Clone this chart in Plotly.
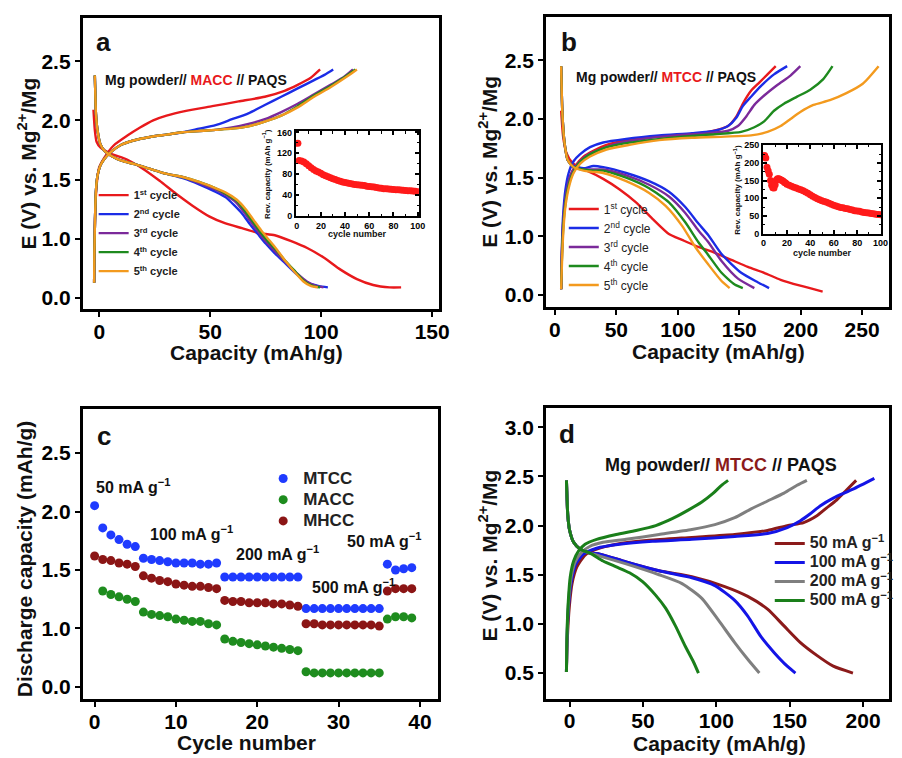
import plotly.graph_objects as go

FONT = "Arial, Liberation Sans, sans-serif"

# ---------------- panel a: Mg powder // MACC // PAQS, cycles 1-5 ----------------
A_NAMES = ["1<sup>st</sup> cycle", "2<sup>nd</sup> cycle", "3<sup>rd</sup> cycle",
           "4<sup>th</sup> cycle", "5<sup>th</sup> cycle"]
A_COLORS = ["#E8191C", "#1B2CE6", "#7B2A9A", "#1E8A1E", "#F39A1E"]

a1_chg_cap = [-2.3, -1.9, -1.2, -0.1, 2.1, 6.6, 12.5, 18.4, 24.3, 30.3, 39.1, 50.9, 62.8, 74.6, 83.5, 89.4, 95.3, 99.5]
a1_chg_v = [0.63, 1.17, 1.45, 1.60, 1.68, 1.79, 1.87, 1.94, 2.00, 2.04, 2.08, 2.12, 2.16, 2.20, 2.25, 2.30, 2.36, 2.43]
a1_dis_cap = [-2.6, -2.0, -1.2, 0.6, 5.1, 12.5, 19.8, 27.2, 34.6, 42.0, 49.5, 56.9, 64.3, 71.7, 79.1, 86.5, 93.9, 101.3, 108.7, 116.1, 123.4, 130.8, 136.0]
a1_dis_v = [2.09, 1.92, 1.82, 1.77, 1.72, 1.67, 1.59, 1.49, 1.38, 1.28, 1.19, 1.13, 1.09, 1.05, 1.03, 0.98, 0.92, 0.84, 0.74, 0.66, 0.61, 0.59, 0.59]

a2_chg_cap = [-2.3, -2.2, -1.9, -1.5, -0.9, 0.3, 2.1, 5.1, 9.5, 15.4, 22.8, 30.3, 37.6, 45.0, 52.4, 59.8, 67.2, 74.6, 82.0, 89.4, 96.8, 102.0, 105.4]
a2_chg_v = [0.63, 0.86, 1.17, 1.40, 1.52, 1.61, 1.67, 1.73, 1.79, 1.83, 1.86, 1.88, 1.90, 1.93, 1.96, 2.01, 2.06, 2.13, 2.20, 2.27, 2.34, 2.39, 2.43]
a2_dis_cap = [-2.0, -1.8, -1.5, -0.8, 0.5, 2.5, 5.5, 10, 16, 23, 30, 38, 45, 52, 57, 61, 64.5, 68, 71.5, 75, 79, 84, 89, 94, 99, 103]
a2_dis_v = [2.38, 2.25, 2.06, 1.92, 1.80, 1.74, 1.70, 1.66, 1.63, 1.59, 1.55, 1.51, 1.46, 1.40, 1.35, 1.28, 1.21, 1.12, 1.04, 0.96, 0.88, 0.79, 0.70, 0.63, 0.60, 0.59]

a3_chg_cap = [-2.3, -2.2, -1.9, -1.5, -0.9, 0.3, 2.1, 5.1, 9.5, 15.4, 22.8, 30.3, 37.6, 45.0, 52.4, 59.8, 67.2, 74.6, 82.0, 89.4, 96.8, 104.2, 110.5, 114.3]
a3_chg_v = [0.63, 0.86, 1.17, 1.40, 1.52, 1.61, 1.67, 1.73, 1.79, 1.83, 1.86, 1.88, 1.90, 1.91, 1.92, 1.94, 1.97, 2.01, 2.07, 2.14, 2.22, 2.30, 2.37, 2.43]
a3_dis_cap = [-2.0, -1.8, -1.5, -0.8, 0.5, 2.5, 5.5, 10, 16, 23, 30, 38, 45, 52, 57, 61.5, 65, 68.5, 72, 75.5, 79.5, 84, 89, 93.5, 98, 101]
a3_dis_v = [2.38, 2.25, 2.06, 1.92, 1.80, 1.74, 1.70, 1.66, 1.63, 1.59, 1.55, 1.52, 1.47, 1.42, 1.37, 1.31, 1.23, 1.14, 1.05, 0.97, 0.89, 0.80, 0.71, 0.64, 0.60, 0.59]

a4_chg_cap = [-2.3, -2.2, -1.9, -1.5, -0.9, 0.3, 2.1, 5.1, 9.5, 15.4, 22.8, 30.3, 37.6, 45.0, 52.4, 59.8, 67.2, 74.6, 82.0, 89.4, 96.8, 104.2, 111.6, 115.4]
a4_chg_v = [0.63, 0.86, 1.17, 1.40, 1.52, 1.61, 1.67, 1.73, 1.79, 1.83, 1.86, 1.88, 1.90, 1.91, 1.92, 1.93, 1.95, 1.99, 2.04, 2.12, 2.21, 2.29, 2.38, 2.43]
a4_dis_cap = [-2.0, -1.8, -1.5, -0.8, 0.5, 2.5, 5.5, 10, 16, 23, 30, 38, 45, 52, 57, 62, 65.5, 69, 72.5, 76, 80, 84, 88.5, 92.5, 96.5, 99.5]
a4_dis_v = [2.38, 2.25, 2.06, 1.92, 1.80, 1.74, 1.70, 1.66, 1.63, 1.59, 1.55, 1.52, 1.48, 1.43, 1.38, 1.32, 1.24, 1.15, 1.06, 0.98, 0.90, 0.81, 0.72, 0.64, 0.60, 0.59]

a5_chg_cap = [-2.3, -2.2, -1.9, -1.5, -0.9, 0.3, 2.1, 5.1, 9.5, 15.4, 22.8, 30.3, 37.6, 45.0, 52.4, 59.8, 67.2, 74.6, 82.0, 89.4, 96.8, 104.2, 111.6, 116.1]
a5_chg_v = [0.63, 0.86, 1.17, 1.40, 1.52, 1.61, 1.67, 1.73, 1.79, 1.83, 1.86, 1.88, 1.90, 1.91, 1.92, 1.93, 1.95, 1.99, 2.04, 2.11, 2.20, 2.28, 2.37, 2.43]
a5_dis_cap = [-2.0, -1.8, -1.5, -0.8, 0.5, 2.5, 5.5, 10, 16, 23, 30, 38, 45, 52, 57, 62, 66, 69.5, 73, 76.5, 80, 84, 88, 92, 95.5, 98.5]
a5_dis_v = [2.38, 2.25, 2.06, 1.92, 1.80, 1.74, 1.70, 1.66, 1.63, 1.59, 1.55, 1.52, 1.48, 1.43, 1.39, 1.33, 1.25, 1.16, 1.07, 0.99, 0.91, 0.81, 0.72, 0.64, 0.60, 0.59]

# inset a: reversible capacity (mAh/g) vs cycle number
ia_cycle = [1] + list(range(2, 101, 2))
ia_cap = [139, 106, 105, 103, 100, 96, 92, 89, 86, 84, 81.5, 79, 77, 75, 73, 71, 69.5, 68, 66.5, 65, 64,
          63, 62, 61, 60, 59.5, 59, 58.5, 58, 57, 56.5, 56, 55.5, 54.5, 53.5, 53, 52, 52, 51.5, 51, 50.5,
          50, 50, 49.5, 49, 48.5, 48, 48, 47.5, 47, 46.5]

# ---------------- panel b: Mg powder // MTCC // PAQS, cycles 1-5 ----------------
B_NAMES = ["1<sup>st</sup> cycle", "2<sup>nd</sup> cycle", "3<sup>rd</sup> cycle",
           "4<sup>th</sup> cycle", "5<sup>th</sup> cycle"]

b1_chg_cap = [5.1, 5.6, 6.7, 8.8, 12.0, 16.6, 23.3, 31.3, 42.0, 58.0, 84.8, 111.5, 132.9, 140.9, 147.6, 152.9, 159.6, 166.3, 173.0, 179.7]
b1_chg_v = [0.55, 0.84, 1.12, 1.35, 1.50, 1.60, 1.68, 1.73, 1.78, 1.82, 1.85, 1.87, 1.91, 1.94, 2.02, 2.13, 2.24, 2.31, 2.38, 2.45]
b1_dis_cap = [5.1, 6.7, 9.4, 13.9, 20.6, 25.9, 39.3, 52.7, 66.0, 79.4, 92.8, 103.5, 116.8, 130.2, 143.6, 157.0, 170.3, 183.7, 199.7, 217.9]
b1_dis_v = [2.07, 1.85, 1.71, 1.63, 1.58, 1.56, 1.49, 1.40, 1.29, 1.15, 1.02, 0.97, 0.91, 0.86, 0.80, 0.74, 0.69, 0.63, 0.58, 0.53]

b2_chg_cap = [5.1, 5.6, 6.7, 8.6, 11.2, 15.2, 20.6, 28.6, 39.3, 58.0, 84.8, 111.5, 130.2, 140.9, 147.6, 152.9, 159.6, 167.6, 178.3, 189.0]
b2_chg_v = [0.55, 0.87, 1.18, 1.40, 1.54, 1.64, 1.70, 1.76, 1.80, 1.83, 1.86, 1.88, 1.90, 1.94, 2.01, 2.11, 2.19, 2.28, 2.38, 2.45]
b2_dis_cap = [5.1, 6.1, 7.8, 10.4, 15.2, 23.3, 31.3, 39.3, 58.0, 76.7, 92.8, 106.1, 116.8, 124.9, 135.6, 151.6, 165.0, 174.3]
b2_dis_v = [2.45, 2.05, 1.80, 1.65, 1.60, 1.58, 1.60, 1.59, 1.54, 1.47, 1.38, 1.25, 1.11, 1.01, 0.85, 0.69, 0.61, 0.56]

b3_chg_cap = [5.1, 5.9, 7.2, 9.4, 12.6, 17.9, 25.9, 36.6, 50.0, 71.4, 98.1, 124.9, 140.9, 148.9, 155.6, 162.3, 170.3, 181.0, 191.7, 199.7]
b3_chg_v = [0.55, 0.90, 1.18, 1.38, 1.52, 1.61, 1.69, 1.74, 1.79, 1.83, 1.86, 1.88, 1.90, 1.94, 2.02, 2.12, 2.20, 2.29, 2.37, 2.45]
b3_dis_cap = [5.1, 6.1, 7.8, 10.4, 15.2, 23.3, 39.3, 58.0, 76.7, 92.8, 106.1, 116.8, 124.9, 135.6, 149.0, 162.3]
b3_dis_v = [2.45, 2.05, 1.80, 1.65, 1.59, 1.57, 1.57, 1.52, 1.44, 1.34, 1.20, 1.05, 0.95, 0.79, 0.64, 0.56]

b4_chg_cap = [5.1, 6.1, 7.8, 10.4, 14.2, 19.3, 27.3, 39.3, 55.4, 76.7, 103.5, 130.2, 151.6, 162.3, 170.3, 178.3, 186.4, 197.1, 207.8, 218.4, 225.9]
b4_chg_v = [0.55, 0.93, 1.21, 1.40, 1.53, 1.62, 1.69, 1.75, 1.79, 1.82, 1.85, 1.87, 1.89, 1.93, 1.98, 2.07, 2.13, 2.19, 2.25, 2.34, 2.45]
b4_dis_cap = [5.1, 6.1, 7.8, 10.4, 15.2, 23.3, 31.3, 39.3, 58.0, 76.7, 92.8, 106.1, 116.8, 124.9, 135.6, 146.3, 152.9]
b4_dis_v = [2.45, 2.05, 1.80, 1.65, 1.59, 1.57, 1.56, 1.56, 1.50, 1.41, 1.29, 1.12, 0.95, 0.84, 0.69, 0.59, 0.56]

b5_chg_cap = [5.1, 6.4, 8.3, 11.2, 15.2, 20.6, 28.6, 42.0, 60.7, 84.8, 111.5, 138.2, 159.6, 173.0, 183.7, 191.7, 199.7, 210.4, 223.8, 237.2, 250.5, 263.4]
b5_chg_v = [0.55, 0.95, 1.23, 1.41, 1.54, 1.62, 1.68, 1.74, 1.78, 1.82, 1.84, 1.85, 1.86, 1.89, 1.94, 2.00, 2.06, 2.12, 2.16, 2.22, 2.30, 2.45]
b5_dis_cap = [5.1, 6.1, 7.8, 10.4, 15.2, 23.3, 31.3, 39.3, 58.0, 76.7, 90.1, 103.5, 114.2, 124.9, 135.6, 142.2]
b5_dis_v = [2.45, 2.05, 1.80, 1.65, 1.59, 1.56, 1.55, 1.54, 1.47, 1.37, 1.26, 1.09, 0.91, 0.76, 0.62, 0.56]

# inset b: reversible capacity (mAh/g) vs cycle number
ib_cycle = list(range(1, 21)) + list(range(22, 101, 2))
ib_cap = [221, 214, 188, 178, 168, 150, 137, 130, 129, 138, 152, 155, 155, 154, 152, 150, 148, 145, 143, 140,
          137, 134, 131, 129, 126, 124, 121, 118, 114, 110, 106, 102, 99, 96, 93, 91, 89, 86, 83, 80,
          78, 76, 74, 73, 71, 70, 68, 67, 65, 64, 63, 61, 60, 59, 58, 57, 56, 55, 54, 53]

# ---------------- panel c: rate capability ----------------
C_RATE_LABELS = ["50 mA g<sup>\u22121</sup>", "100 mA g<sup>\u22121</sup>", "200 mA g<sup>\u22121</sup>",
                 "500 mA g<sup>\u22121</sup>", "50 mA g<sup>\u22121</sup>"]
C_NAMES = ["MTCC", "MACC", "MHCC"]
C_COLORS = ["#1F3BFF", "#1E8C1E", "#8B1515"]
c_cycle = list(range(0, 40))
c_mtcc = [2.05, 1.86, 1.80, 1.76, 1.72, 1.70,
          1.60, 1.59, 1.58, 1.57, 1.56, 1.56, 1.56, 1.55, 1.55, 1.56,
          1.44, 1.44, 1.44, 1.44, 1.44, 1.44, 1.44, 1.44, 1.44, 1.44,
          1.17, 1.17, 1.17, 1.17, 1.17, 1.17, 1.17, 1.17, 1.17, 1.17,
          1.55, 1.50, 1.51, 1.52]
c_macc_cycle = list(range(1, 40))
c_macc = [1.32, 1.29, 1.27, 1.25, 1.23,
          1.14, 1.12, 1.11, 1.10, 1.08, 1.07, 1.06, 1.06, 1.04, 1.03,
          0.91, 0.89, 0.88, 0.87, 0.86, 0.85, 0.84, 0.83, 0.82, 0.81,
          0.63, 0.62, 0.62, 0.62, 0.62, 0.62, 0.62, 0.62, 0.62, 0.62,
          1.08, 1.10, 1.10, 1.09]
c_mhcc = [1.62, 1.59, 1.58, 1.56, 1.55, 1.53,
          1.45, 1.43, 1.41, 1.40, 1.38, 1.37, 1.36, 1.36, 1.35, 1.34,
          1.24, 1.23, 1.23, 1.22, 1.22, 1.22, 1.21, 1.21, 1.20, 1.19,
          1.04, 1.04, 1.03, 1.03, 1.03, 1.03, 1.03, 1.03, 1.03, 1.02,
          1.32, 1.34, 1.34, 1.34]

# ---------------- panel d: MTCC at different current densities ----------------
D_NAMES = ["50 mA g<sup>\u22121</sup>", "100 mA g<sup>\u22121</sup>", "200 mA g<sup>\u22121</sup>", "500 mA g<sup>\u22121</sup>"]
D_COLORS = ["#8B1A1A", "#1414E6", "#7F7F7F", "#1A7F1A"]

d50_chg_cap = [-2.2, -1.6, -0.2, 1.6, 4.9, 10.5, 18.4, 31.8, 54.2, 83.3, 112.5, 134.9, 148.3, 159.5, 168.5, 175.2, 181.9, 188.6, 195.3]
d50_chg_v = [0.51, 0.84, 1.18, 1.41, 1.58, 1.70, 1.76, 1.81, 1.85, 1.88, 1.91, 1.95, 2.00, 2.03, 2.10, 2.18, 2.26, 2.36, 2.46]
d50_dis_cap = [-2.2, -1.8, -1.3, 0, 2.7, 7.2, 13.9, 20.6, 38.5, 60.9, 83.3, 105.7, 121.4, 134.9, 146.1, 157.3, 168.5, 179.7, 193.1]
d50_dis_v = [2.46, 2.28, 2.11, 1.95, 1.83, 1.76, 1.72, 1.71, 1.63, 1.54, 1.48, 1.38, 1.28, 1.15, 0.98, 0.81, 0.68, 0.57, 0.50]

d100_chg_cap = [-2.2, -1.8, -0.7, 1.1, 4.3, 9.4, 18.4, 34.1, 56.5, 83.3, 112.5, 134.9, 148.3, 157.3, 164.0, 170.7, 179.7, 193.1, 207.7]
d100_chg_v = [0.51, 0.84, 1.19, 1.43, 1.61, 1.71, 1.77, 1.81, 1.84, 1.86, 1.89, 1.92, 1.98, 2.05, 2.12, 2.20, 2.28, 2.37, 2.48]
d100_dis_cap = [-2.2, -1.8, -1.3, 0, 2.7, 7.2, 13.9, 20.6, 38.5, 60.9, 83.3, 99.0, 112.5, 121.4, 130.4, 139.3, 148.3, 153.9]
d100_dis_v = [2.46, 2.28, 2.11, 1.95, 1.83, 1.76, 1.72, 1.71, 1.63, 1.54, 1.47, 1.39, 1.24, 1.08, 0.87, 0.71, 0.57, 0.50]

d200_chg_cap = [-2.2, -1.8, -0.7, 1.1, 3.8, 8.3, 13.9, 22.8, 38.5, 60.9, 83.3, 99.0, 112.5, 123.7, 134.9, 146.1, 155.0, 161.7]
d200_chg_v = [0.51, 0.87, 1.24, 1.48, 1.63, 1.73, 1.79, 1.83, 1.86, 1.91, 1.96, 2.01, 2.08, 2.17, 2.25, 2.33, 2.41, 2.46]
d200_dis_cap = [-2.2, -1.8, -1.3, 0, 2.7, 7.2, 13.9, 20.6, 38.5, 60.9, 76.6, 90.1, 101.3, 112.5, 121.4, 129.3]
d200_dis_v = [2.46, 2.28, 2.11, 1.95, 1.83, 1.76, 1.72, 1.69, 1.61, 1.50, 1.41, 1.26, 1.04, 0.81, 0.64, 0.50]

d500_chg_cap = [-2.2, -1.8, -0.9, 0.4, 2.7, 6.0, 10.5, 18.4, 31.8, 45.3, 58.7, 69.9, 81.1, 90.1, 97.9, 103.5, 108.0]
d500_chg_v = [0.51, 0.91, 1.24, 1.48, 1.64, 1.74, 1.81, 1.86, 1.91, 1.95, 2.00, 2.07, 2.16, 2.24, 2.33, 2.41, 2.46]
d500_dis_cap = [-2.2, -1.8, -1.3, 0, 2.7, 7.2, 13.9, 22.8, 31.8, 40.8, 49.7, 58.7, 65.4, 72.1, 78.9, 84.5, 87.8]
d500_dis_v = [2.46, 2.28, 2.11, 1.95, 1.83, 1.76, 1.72, 1.64, 1.58, 1.52, 1.43, 1.29, 1.16, 0.98, 0.77, 0.61, 0.50]

# tick values / labels
Y_TICKS_ABC = [0.5, 1.0, 1.5, 2.0, 2.5]
Y_TEXT_ABC = ["0.0", "1.0", "1.5", "2.0", "2.5"]
A_XTICKS = [0, 50, 100, 150]
B_XTICKS = [0, 50, 100, 150, 200, 250]
C_XTICKS = [0, 10, 20, 30, 40]
D_XTICKS = [0, 50, 100, 150, 200]
D_YTICKS = [0.5, 1.0, 1.5, 2.0, 2.5, 3.0]
D_YTEXT = ["0.5", "1.0", "1.5", "2.0", "2.5", "3.0"]

fig = go.Figure()


def sized(text, size):
    return f"<span style='font-size:{size}px'>{text}</span>"


def curve(x, y, color, width, xa, ya, name=None, legend="legend", show=False, group=None):
    fig.add_trace(go.Scatter(
        x=x, y=y, mode="lines", name=name, legend=legend, showlegend=show, legendgroup=group,
        line=dict(color=color, width=width, shape="spline", smoothing=0.6),
        xaxis=xa, yaxis=ya, hoverinfo="skip"))


# panel a
a_sets = [(a1_chg_cap, a1_chg_v, a1_dis_cap, a1_dis_v), (a2_chg_cap, a2_chg_v, a2_dis_cap, a2_dis_v),
          (a3_chg_cap, a3_chg_v, a3_dis_cap, a3_dis_v), (a4_chg_cap, a4_chg_v, a4_dis_cap, a4_dis_v),
          (a5_chg_cap, a5_chg_v, a5_dis_cap, a5_dis_v)]
for i, (cx, cy, dx, dy) in enumerate(a_sets):
    curve(cx, cy, A_COLORS[i], 2.4, "x", "y", A_NAMES[i], "legend", True, f"a{i}")
    curve(dx, dy, A_COLORS[i], 2.4, "x", "y", A_NAMES[i], "legend", False, f"a{i}")

# panel b
b_sets = [(b1_chg_cap, b1_chg_v, b1_dis_cap, b1_dis_v), (b2_chg_cap, b2_chg_v, b2_dis_cap, b2_dis_v),
          (b3_chg_cap, b3_chg_v, b3_dis_cap, b3_dis_v), (b4_chg_cap, b4_chg_v, b4_dis_cap, b4_dis_v),
          (b5_chg_cap, b5_chg_v, b5_dis_cap, b5_dis_v)]
for i, (cx, cy, dx, dy) in enumerate(b_sets):
    curve(cx, cy, A_COLORS[i], 2.4, "x2", "y2", B_NAMES[i], "legend2", True, f"b{i}")
    curve(dx, dy, A_COLORS[i], 2.4, "x2", "y2", B_NAMES[i], "legend2", False, f"b{i}")

# panel c
for name, xs, ys, col in zip(C_NAMES, [c_cycle, c_macc_cycle, c_cycle], [c_mtcc, c_macc, c_mhcc], C_COLORS):
    fig.add_trace(go.Scatter(x=xs, y=ys, mode="markers", name=sized(name, 17), legend="legend3",
                             marker=dict(color=col, size=9, line=dict(width=0)),
                             xaxis="x3", yaxis="y3", hoverinfo="skip"))

# panel d
d_sets = [(d50_chg_cap, d50_chg_v, d50_dis_cap, d50_dis_v), (d100_chg_cap, d100_chg_v, d100_dis_cap, d100_dis_v),
          (d200_chg_cap, d200_chg_v, d200_dis_cap, d200_dis_v), (d500_chg_cap, d500_chg_v, d500_dis_cap, d500_dis_v)]
for i, (cx, cy, dx, dy) in enumerate(d_sets):
    curve(cx, cy, D_COLORS[i], 3, "x4", "y4", sized(D_NAMES[i], 16), "legend4", True, f"d{i}")
    curve(dx, dy, D_COLORS[i], 3, "x4", "y4", sized(D_NAMES[i], 16), "legend4", False, f"d{i}")

# insets
fig.add_trace(go.Scatter(x=ia_cycle, y=ia_cap, mode="markers", showlegend=False,
                         marker=dict(color="#FF1A1A", size=7, line=dict(width=0)),
                         xaxis="x5", yaxis="y5", hoverinfo="skip"))
fig.add_trace(go.Scatter(x=ib_cycle, y=ib_cap, mode="markers", showlegend=False,
                         marker=dict(color="#FF1A1A", size=7, line=dict(width=0)),
                         xaxis="x6", yaxis="y6", hoverinfo="skip"))

W, H = 902, 758


def px_x(p):
    return p / W


def px_y(p):
    return 1 - p / H


tick_font = dict(family=FONT, size=21, color="black", weight="bold")


def main_axis(domain, rng, anchor, tickvals, ticktext=None, standoff=0):
    return dict(domain=domain, range=rng, anchor=anchor, showgrid=False, zeroline=False,
                showline=True, linecolor="black", linewidth=3, mirror=True,
                ticks="outside", ticklen=5, tickwidth=2, tickcolor="black",
                ticklabelstandoff=standoff,
                tickvals=tickvals, ticktext=ticktext if ticktext else [str(v) for v in tickvals],
                tickfont=tick_font)


inset_font = dict(family=FONT, size=9, color="black", weight="bold")


def inset_axis(domain, rng, anchor, dtick, minor):
    return dict(domain=domain, range=rng, anchor=anchor, showgrid=False, zeroline=False,
                showline=True, linecolor="black", linewidth=1.5, mirror="allticks",
                ticks="inside", ticklen=4, tickwidth=1.5, tickcolor="black", dtick=dtick, tick0=0,
                minor=dict(dtick=minor, ticks="inside", ticklen=2.5, tickcolor="black", tickwidth=1),
                tickfont=inset_font)


layout = dict(
    width=W, height=H, margin=dict(l=0, r=0, t=0, b=0),
    paper_bgcolor="white", plot_bgcolor="white",
    xaxis=main_axis([px_x(82), px_x(443)], [-7.4, 152.9], "y", A_XTICKS, standoff=-3),
    yaxis=main_axis([px_y(308), px_y(13)], [0.408, 2.866], "x", Y_TICKS_ABC, Y_TEXT_ABC),
    xaxis2=main_axis([px_x(552), px_x(900)], [-7.2, 271.9], "y2", B_XTICKS, standoff=-3),
    yaxis2=main_axis([px_y(306), px_y(12)], [0.399, 2.870], "x2", Y_TICKS_ABC, Y_TEXT_ABC),
    xaxis3=main_axis([px_x(82), px_x(442)], [-1.45, 42.18], "y3", C_XTICKS, standoff=-3),
    yaxis3=main_axis([px_y(703), px_y(409)], [0.399, 2.880], "x3", Y_TICKS_ABC, Y_TEXT_ABC),
    xaxis4=main_axis([px_x(552), px_x(900)], [-16.1, 217.7], "y4", D_XTICKS, standoff=-4),
    yaxis4=main_axis([px_y(703), px_y(408)], [0.239, 3.2], "x4", D_YTICKS, D_YTEXT),
    xaxis5=inset_axis([px_x(298), px_x(423)], [-0.8, 101], "y5", 20, 10),
    yaxis5=inset_axis([px_y(214), px_y(128)], [-0.5, 162], "x5", 40, 20),
    xaxis6=inset_axis([px_x(772), px_x(892)], [-0.5, 100.5], "y6", 20, 10),
    yaxis6=inset_axis([px_y(232), px_y(142)], [-1, 250.5], "x6", 50, 25),
    legend=dict(x=px_x(93), y=px_y(178), xanchor="left", yanchor="top", bgcolor="rgba(0,0,0,0)",
                font=dict(family=FONT, size=11, color="#222", weight="bold"), tracegroupgap=0),
    legend2=dict(x=px_x(570), y=px_y(192), xanchor="left", yanchor="top", bgcolor="rgba(0,0,0,0)",
                 font=dict(family=FONT, size=12, color="#222"), tracegroupgap=0),
    legend3=dict(x=px_x(265), y=px_y(464), xanchor="left", yanchor="top", bgcolor="rgba(0,0,0,0)",
                 font=dict(family=FONT, size=14, color="#222", weight="bold"), tracegroupgap=0),
    legend4=dict(x=px_x(779), y=px_y(531), xanchor="left", yanchor="top", bgcolor="rgba(0,0,0,0)",
                 font=dict(family=FONT, size=12.3, color="#222", weight="bold"), tracegroupgap=0),
)
fig.update_layout(**layout)


def note(text, x, y, size, xanchor="center", angle=0, color="#111"):
    fig.add_annotation(text=text, x=px_x(x), y=px_y(y), xref="paper", yref="paper",
                       xanchor=xanchor, yanchor="middle", showarrow=False, textangle=angle,
                       font=dict(family=FONT, size=size, color=color, weight="bold"))


# panel letters
note("a", 103, 38, 26)
note("b", 575, 37, 26)
note("c", 103, 437, 26)
note("d", 573, 435, 26)

# cell descriptions
note("Mg powder// <span style='color:#E8191C'>MACC</span> // PAQS", 102, 76, 14, "left")
note("Mg powder// <span style='color:#E8191C'>MTCC</span> // PAQS", 580, 73, 14, "left")
note("Mg powder// <span style='color:#8B1A1A'>MTCC</span> // PAQS", 610, 466, 18, "left")

# current density labels for the rate test
for txt, (x, y) in zip(C_RATE_LABELS, [(93, 487), (148, 535), (235, 555), (313, 589), (348, 542)]):
    note(txt, x, y, 16, "left")

# axis titles
note("Capacity (mAh/g)", 258, 352, 21)
note("E (V) vs. Mg<sup>2+</sup>/Mg", 25, 161, 21, angle=-90)
note("Capacity (mAh/g)", 727, 351, 21)
note("E (V) vs. Mg<sup>2+</sup>/Mg", 493, 159, 21, angle=-90)
note("Cycle number", 248, 747, 21)
note("Discharge capacity (mAh/g)", 23, 561, 21, angle=-90)
note("Capacity (mAh/g)", 728, 748, 21)
note("E (V) vs. Mg<sup>2+</sup>/Mg", 493, 558, 21, angle=-90)

# inset titles
note("cycle number", 361, 232, 9)
note("Rev. capacity (mAh g<sup>\u22121</sup>)", 268, 171, 8, angle=-90)
note("cycle number", 833, 251, 9)
note("Rev. capacity (mAh g<sup>\u22121</sup>)", 745, 187, 8, angle=-90)

fig.write_html("out.html")
